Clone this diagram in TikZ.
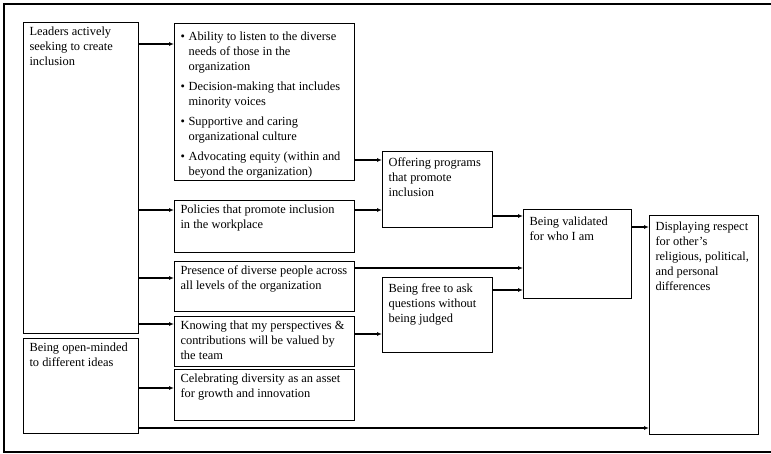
\documentclass[tikz,border=0pt]{standalone}
\usepackage{fontspec}
\setmainfont{Liberation Serif}
\usetikzlibrary{arrows.meta}
\newcommand\mybox[7][0]{%
  \node[boxst, minimum width={#5-#3}, minimum height={#6-#4}] (#2) at (#3,#4)
  {\begin{minipage}[c][\dimexpr #6pt-#4pt\relax][t]{\dimexpr #5pt-#3pt-12pt\relax}\vspace*{\dimexpr 4pt+#1pt\relax}\raggedright #7\end{minipage}};}
\newcommand\itm[1]{\par\hangindent=8pt\hangafter=1\noindent\makebox[8pt][l]{\textbullet}#1}
\begin{document}
\begin{tikzpicture}[x=1pt,y=-1pt,
  boxst/.style={draw, line width=1.1pt, anchor=north west, inner xsep=6pt, inner ysep=0pt,
    font=\fontsize{12.4}{15}\selectfont},
  arr/.style={line width=1.4pt, -{Latex[length=5pt,width=4pt]}},
  ln/.style={line width=1.4pt}]
\useasboundingbox (0,0) rectangle (771,454);
\draw[line width=1.2pt] (771,4) -- (4,4) -- (4,452) -- (771,452);

\mybox{lead}{23}{22}{138}{333}{Leaders actively\\seeking to create\\inclusion}
\mybox{open}{23}{338}{138}{433}{Being open-minded\\to different ideas}
\mybox[4]{bul}{174}{23}{354}{180}{%
  \itm{Ability to listen to the diverse\newline needs of those in the\newline organization}\par\vspace{5pt}%
  \itm{Decision-making that includes\newline minority voices}\par\vspace{5pt}%
  \itm{Supportive and caring\newline organizational culture}\par\vspace{5pt}%
  \itm{Advocating equity (within and\newline beyond the organization)}}
\mybox{pol}{174}{200}{354}{252}{Policies that promote inclusion\\in the workplace}
\mybox{pres}{174}{261}{354}{311}{Presence of diverse people across\\all levels of the organization}
\mybox{know}{174}{316}{354}{366}{Knowing that my perspectives \&\\contributions will be valued by\\the team}
\mybox{cel}{174}{369}{354}{420}{Celebrating diversity as an asset\\for growth and innovation}
\mybox[2]{off}{382}{151}{492}{227}{Offering programs\\that promote\\inclusion}
\mybox[2]{free}{382}{277}{492}{352}{Being free to ask\\questions without\\being judged}
\mybox[3]{val}{523}{209}{631}{298}{Being validated\\for who I am}
\mybox[2]{disp}{649}{215}{758}{434}{Displaying respect\\for other’s\\religious, political,\\and personal\\differences}

\draw[arr] (lead.east |- 0,44) -- (bul.west |- 0,44);
\draw[arr] (lead.east |- 0,210) -- (pol.west |- 0,210);
\draw[arr] (lead.east |- 0,278) -- (pres.west |- 0,278);
\draw[arr] (lead.east |- 0,324) -- (know.west |- 0,324);
\draw[arr] (open.east |- 0,388) -- (cel.west |- 0,388);
\draw[arr] (open.east |- 0,428) -- (disp.west |- 0,428);
\draw[arr] (bul.east |- 0,160) -- (off.west |- 0,160);
\draw[arr] (pol.east |- 0,210) -- (off.west |- 0,210);
\draw[arr] (off.east |- 0,216) -- (val.west |- 0,216);
\draw[arr] (pres.east |- 0,268) -- (val.west |- 0,268);
\draw[arr] (know.east |- 0,334) -- (free.west |- 0,334);
\draw[arr] (free.east |- 0,290) -- (val.west |- 0,290);
\draw[arr] (val.east |- 0,227) -- (disp.west |- 0,227);
\end{tikzpicture}
\end{document}
